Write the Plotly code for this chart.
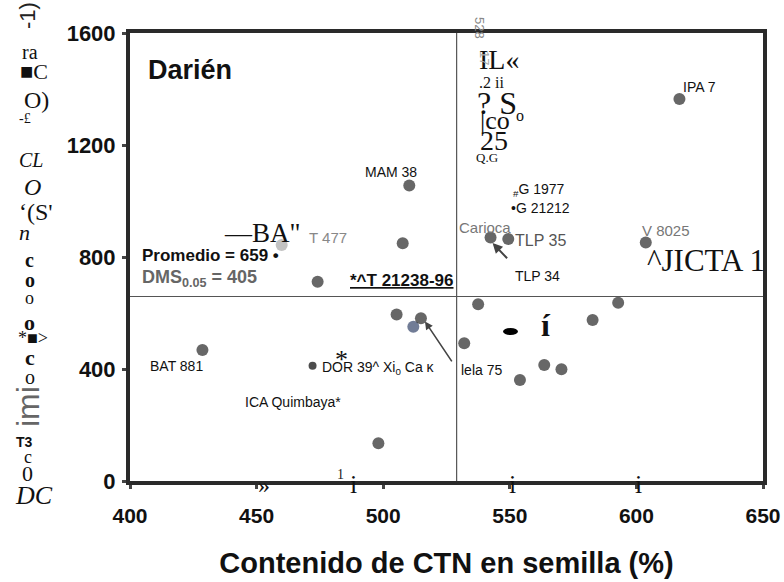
import plotly.graph_objects as go

# Seed CTN content (%) vs grain yield for the Darién site
ctn = [510.3, 507.7, 474.1, 459.9, 617.0, 542.4, 549.4, 603.7, 505.3, 511.9,
       514.9, 537.5, 532.0, 428.6, 472.1, 498.1, 592.8, 582.7, 554.0, 563.6, 570.4]
rend = [1055, 849, 712, 843, 1364, 870, 864, 852, 595, 551,
        581, 631, 492, 468, 412, 135, 637, 575, 361, 414, 399]
colores = ["#262626"] * len(ctn)
colores[3] = "#a8a8a8"
colores[9] = "#34446a"
tamanos = [12] * len(ctn)
tamanos[14] = 8
colores[14] = "#000"

promedio_rend = 659
promedio_ctn = 529
x_ticks = [400, 450, 500, 550, 600, 650]
y_ticks = [0, 400, 800, 1200, 1600]

W, H = 784, 582
L, R, T, B = 130, 21, 33, 101
PW, PH = W - L - R, H - T - B


def px(x, y):
    return (x - L) / PW, (H - B - y) / PH


fig = go.Figure()
fig.add_trace(go.Scatter(x=ctn, y=rend, mode="markers",
                         marker=dict(size=tamanos, color=colores, line=dict(width=0)),
                         showlegend=False, hoverinfo="x+y"))

fig.add_hline(y=promedio_rend, line=dict(color="#555", width=1.2))
fig.add_vline(x=promedio_ctn, line=dict(color="#555", width=1.2))

SANS = "Liberation Sans"
SERIF = "Liberation Serif"


def txt(x, y, s, size=13, color="#111", bold=False, family=SANS, anchor="left",
        italic=False, angle=0):
    xp, yp = px(x, y)
    fig.add_annotation(x=xp, y=yp, xref="paper", yref="paper", text=s,
                       showarrow=False, xanchor=anchor, yanchor="middle",
                       textangle=angle,
                       font=dict(size=size, color=color, family=family,
                                 weight="bold" if bold else "normal",
                                 style="italic" if italic else "normal"))


# Main labels
txt(146, 70, "Darién", 27, bold=True)
txt(391, 172, "MAM 38", 14, anchor="center")
txt(307, 237, "T 477", 15, color="#888")
txt(222, 233, "—BA\"", 27, family=SERIF)
txt(140, 255, "Promedio = 659 •", 17, bold=True)
txt(140, 278, "DMS<sub>0.05</sub> = 405", 18, color="#666", bold=True)
txt(348, 280, "<u>*^T 21238-96</u>", 17, bold=True)
txt(457, 228, "Carioca", 15, color="#777")
txt(513, 240, "TLP 35", 16, color="#555")
txt(513, 276, "TLP 34", 14)
txt(640, 230, "V 8025", 15, color="#777")
txt(645, 260, "^JICTA 1", 31, family=SERIF)
txt(681, 87, "IPA 7", 14)
txt(511, 190, "<sub>#</sub>G 1977", 14)
txt(509, 208, "•G 21212", 14)
txt(148, 366, "BAT 881", 14)
txt(320, 368, "DOR 39^ Xi<sub>0</sub> Ca κ", 14)
txt(243, 402, "ICA Quimbaya*", 14)
txt(459, 370, "lela 75", 14)
txt(333, 359, "*", 26, family=SERIF)
txt(539, 325, "í", 32, bold=True, family=SERIF)
fig.add_shape(type="circle", xref="paper", yref="paper",
              x0=px(503, 0)[0], x1=px(518, 0)[0], y0=px(0, 335)[1], y1=px(0, 328)[1],
              fillcolor="#000", line=dict(width=0))

# Text fragments near the top of the vertical line
txt(477, 60, "IL«", 28, family=SERIF)
txt(477, 82, ".2 ii", 16, family=SERIF)
txt(475, 103, "? S", 32, family=SERIF)
txt(514, 116, "o", 16, family=SERIF)
txt(478, 120, "|co", 26, family=SERIF)
txt(478, 140, "25", 28, family=SERIF)
txt(474, 157, "Q.G", 13, family=SERIF)
txt(480, 28, "528", 13, color="#888", angle=90, anchor="center")
txt(484, 58, "17", 13, color="#aaa", angle=90, anchor="center")

# Fragments along the x axis
txt(256, 485, "»", 24, family=SERIF)
txt(335, 474, "1", 14, color="#222", family=SERIF)
txt(348, 484, "i", 26, family=SERIF)
txt(507, 484, "i", 26, family=SERIF)
txt(633, 484, "i", 26, family=SERIF)

# Vertical axis title fragments
ytitle = [
    (20, 52, "ra", 20, False, False),
    (18, 72, "■C", 22, False, False),
    (22, 100, "O)", 24, False, False),
    (17, 118, "-£", 14, False, False),
    (17, 160, "CL", 20, False, True),
    (22, 187, "O", 24, False, True),
    (17, 212, "‘(S'", 24, False, False),
    (17, 232, "n", 22, False, True),
    (23, 260, "c", 20, True, False),
    (23, 280, "o", 20, True, False),
    (23, 298, "o", 18, False, False),
    (22, 322, "o", 22, True, False),
    (16, 338, "*■>", 18, False, False),
    (23, 357, "c", 22, True, False),
    (23, 377, "o", 20, False, False),
    (14, 442, "T3", 14, True, False),
    (22, 457, "c", 18, False, False),
    (20, 473, "0", 22, False, False),
    (13, 495, "DC", 26, False, True),
]
for x, y, s, sz, b, it in ytitle:
    txt(x, y, s, sz, bold=b, family=SANS if s == "T3" else SERIF,
        italic=it, color="#111")
txt(28, 16, "-1)", 22, color="#222", angle=-90, anchor="center")
txt(28, 407, "imi", 32, color="#666", angle=-90, anchor="center")

# Arrows
fig.add_annotation(x=543.2, y=850, ax=549.5, ay=790, xref="x", yref="y",
                   axref="x", ayref="y", showarrow=True, arrowhead=2,
                   arrowsize=1, arrowwidth=2, arrowcolor="#444", text="")
fig.add_annotation(x=516.5, y=570, ax=527.5, ay=422, xref="x", yref="y",
                   axref="x", ayref="y", showarrow=True, arrowhead=2,
                   arrowsize=1, arrowwidth=1.6, arrowcolor="#444", text="")

axis_common = dict(showgrid=False, zeroline=False, showline=True, mirror=True,
                   linecolor="#2a2a2a", linewidth=4, ticks="outside", tickcolor="#444",
                   tickwidth=3, ticklen=4, automargin=False)

fig.update_layout(
    width=W, height=H,
    margin=dict(l=L, r=R, t=T, b=B, autoexpand=False),
    paper_bgcolor="white", plot_bgcolor="white",
    xaxis=dict(range=[400, 650], tickvals=x_ticks, ticklabelstandoff=9,
               tickfont=dict(family=SANS, size=21, color="#111", weight="bold"),
               title=dict(text="Contenido de CTN en semilla (%)", standoff=27,
                          font=dict(family=SANS, size=29, color="#111", weight="bold")),
               **axis_common),
    yaxis=dict(range=[0, 1600], tickvals=y_ticks, ticklabelstandoff=2,
               tickfont=dict(family=SANS, size=22, color="#111", weight="bold"),
               **axis_common),
)

fig.write_html("out.html")
